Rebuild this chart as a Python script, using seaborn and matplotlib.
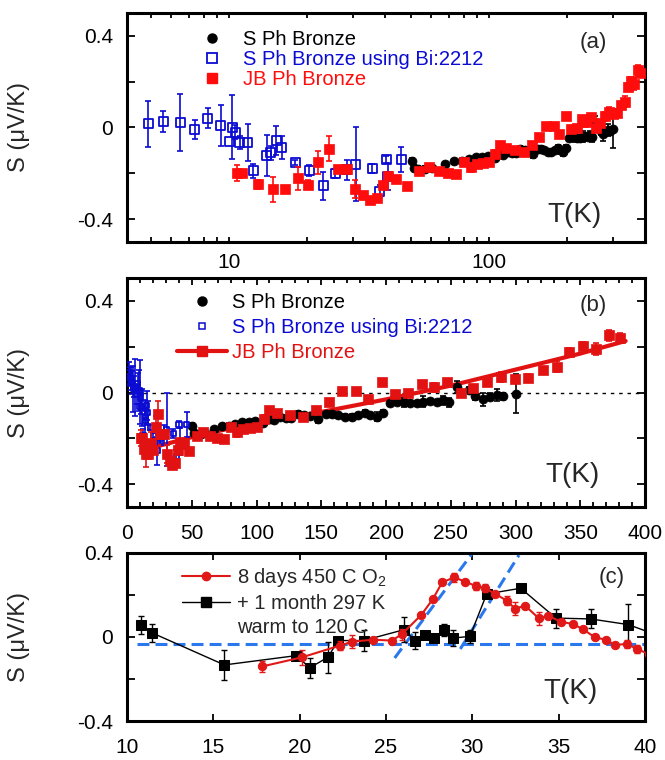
import numpy as np
import pandas as pd
import seaborn as sns
import matplotlib.pyplot as plt
from matplotlib.lines import Line2D
from matplotlib.ticker import (FixedLocator, LogLocator, MultipleLocator,
                               NullFormatter, FuncFormatter)

# Style
sns.set_style("ticks")
plt.rcParams['font.family'] = ['Liberation Sans', 'DejaVu Sans']
plt.rcParams['mathtext.fontset'] = 'custom'
plt.rcParams['mathtext.rm'] = 'Liberation Sans'
plt.rcParams['mathtext.it'] = 'Liberation Sans:italic'
plt.rcParams['axes.unicode_minus'] = False

RED = '#ff0c0c'
RED_B = '#e31212'
RED_C = '#e01818'
BLUE = '#0b0bd2'
GUIDE = '#2b78ee'

# ---- S Ph Bronze (black circles) ----
s_T = [50.5, 51.5, 53.5, 56.8, 60.4, 67.5, 73.5, 78.5, 83.5, 89, 94, 99, 105,
       110.5, 113.5, 118, 123, 127, 132, 137, 141, 147.7, 154, 158, 163, 168,
       173.5, 178.6, 184, 188, 192.8, 198, 203, 208.3, 213.5, 218.5, 223.7,
       228.8, 234, 239.2, 244.2, 249, 254.5, 264, 268.7, 274.7, 280.3, 285.5,
       290.6, 300]
s_S = [-0.145, -0.175, -0.18, -0.18, -0.175, -0.16, -0.148, -0.145, -0.138,
       -0.13, -0.128, -0.125, -0.135, -0.115, -0.12, -0.108, -0.112, -0.11,
       -0.092, -0.098, -0.102, -0.115, -0.094, -0.092, -0.1, -0.106, -0.106,
       -0.1, -0.088, -0.1, -0.106, -0.088, -0.047, -0.042, -0.043, -0.048,
       -0.047, -0.04, -0.038, -0.042, -0.034, -0.042, 0.024, 0.013, -0.014,
       -0.03, -0.019, -0.01, -0.016, -0.005]
s_err = [0.01] * 17 + [0.015, 0.01, 0.01, 0.01, 0.02, 0.01, 0.01, 0.01, 0.01,
         0.01, 0.01, 0.01, 0.01, 0.02, 0.01, 0.01, 0.01, 0.02, 0.01, 0.01,
         0.025, 0.01, 0.01, 0.02, 0.02, 0.025, 0.01, 0.02, 0.03, 0.015, 0.025,
         0.015, 0.085]

# ---- S Ph Bronze using Bi:2212 (blue open squares) ----
bi_T = [1.5, 2.2, 3.0, 3.6, 4.9, 5.6, 6.5, 7.4, 8.3, 9.3, 10.1, 10.3, 10.6,
        11.0, 11.8, 12.4, 14.0, 14.5, 15.2, 16.0, 18.0, 20.4, 23.1, 25.6,
        28.4, 30.7, 35.6, 38.1, 40.2, 40.9, 46.0]
bi_S = [0.085, 0.07, 0.06, 0.045, 0.016, 0.025, 0.023, -0.009, 0.041, 0.009,
        -0.06, 0.001, -0.02, -0.065, -0.065, -0.19, -0.123, -0.11, -0.057,
        -0.087, -0.152, -0.189, -0.255, -0.2, -0.185, -0.16, -0.18, -0.278,
        -0.138, -0.215, -0.14]
bi_err = [0.05, 0.04, 0.05, 0.05, 0.1, 0.045, 0.125, 0.04, 0.045, 0.09, 0.0,
          0.14, 0.03, 0.03, 0.08, 0.03, 0.09, 0.03, 0.065, 0.05, 0.01, 0.025,
          0.06, 0.02, 0.045, 0.16, 0.02, 0.025, 0.015, 0.06, 0.055]

# ---- JB Ph Bronze (red squares) ----
jb_T = [10.75, 11.2, 13.0, 14.8, 16.5, 18.4, 20.1, 22.0, 24.2, 26.2, 28.4,
        30.5, 32.9, 34.9, 37.0, 39.3, 41.0, 43.8, 48.2, 53.9, 58.9, 64.4, 69.7,
        74.6, 80.1, 85.1, 89.6, 95.0, 100.0, 105.5, 110.0, 116.0, 126.0, 136.0,
        146.0, 156.0, 166.0, 177.0, 186.0, 197.0, 207.0, 217.0, 227.5, 237.0,
        247.0, 257.5, 267.5, 278.0, 289.0, 299.5, 310.0, 321.5, 332.0, 341.5,
        352.0, 362.0, 372.5, 381.0]
jb_S = [-0.20, -0.20, -0.248, -0.27, -0.27, -0.221, -0.25, -0.152, -0.092,
        -0.18, -0.182, -0.27, -0.297, -0.317, -0.306, -0.25, -0.214, -0.223,
        -0.254, -0.192, -0.173, -0.188, -0.20, -0.205, -0.149, -0.173, -0.158,
        -0.155, -0.15, -0.114, -0.075, -0.088, -0.098, -0.108, -0.078, -0.042,
        0.008, 0.006, -0.03, 0.048, -0.008, -0.002, 0.038, 0.022, 0.045,
        -0.003, 0.018, 0.048, 0.068, 0.058, 0.065, 0.1, 0.113, 0.178, 0.205,
        0.19, 0.25, 0.24]
jb_err = [0.035, 0.0, 0.02, 0.055, 0.0, 0.05, 0.02, 0.05, 0.055, 0.0, 0.0,
          0.04, 0.0, 0.0, 0.0, 0.0, 0.0, 0.0, 0.0, 0.0, 0.0, 0.0, 0.0, 0.0,
          0.0, 0.02, 0.0, 0.0, 0.0, 0.015, 0.0, 0.0, 0.0, 0.0, 0.0, 0.0, 0.0,
          0.0, 0.0, 0.0, 0.0, 0.0, 0.0, 0.02, 0.0, 0.0, 0.0, 0.02, 0.02, 0.0,
          0.015, 0.0, 0.025, 0.015, 0.015, 0.025, 0.025, 0.02]

# fitted line through JB data, panel (b)
fit_T = [20, 50, 100, 150, 200, 250, 300, 350, 385]
fit_S = [-0.24, -0.195, -0.13, -0.085, -0.03, 0.03, 0.1, 0.17, 0.225]

# ---- panel (c): 8 days 450 C O2 (red circles) ----
o2_T = [17.84, 20.12, 22.33, 23.05, 24.26, 25.33, 25.9, 27.04, 27.7, 28.25,
        28.95, 29.59, 30.23, 30.73, 31.31, 31.99, 32.47, 33.05, 33.85, 34.4,
        35.12, 35.8, 36.39, 37.1, 37.74, 38.26, 38.97, 39.51, 40.2]
o2_S = [-0.14, -0.097, -0.041, -0.022, -0.013, -0.017, 0.012, 0.105, 0.179,
        0.26, 0.284, 0.263, 0.242, 0.232, 0.206, 0.173, 0.135, 0.149, 0.089,
        0.101, 0.073, 0.062, 0.038, -0.002, -0.013, -0.038, -0.033, -0.057,
        -0.08]
o2_err = [0.025, 0.035, 0.02, 0.03, 0.0, 0.0, 0.025, 0.0, 0.0, 0.0, 0.02, 0.0,
          0.02, 0.02, 0.0, 0.02, 0.03, 0.0, 0.03, 0.0, 0.0, 0.0, 0.0, 0.0,
          0.0, 0.0, 0.02, 0.02, 0.0]

# ---- panel (c): + 1 month 297 K, warm to 120 C (black squares) ----
mo_T = [10.79, 11.47, 15.64, 19.77, 20.6, 21.62, 22.24, 23.7, 26.05, 26.68,
        27.26, 27.78, 28.37, 28.9, 29.86, 30.83, 32.8, 34.84, 36.85, 39.03,
        41.0]
mo_S = [0.057, 0.019, -0.133, -0.089, -0.146, -0.097, -0.017, -0.017, 0.035,
        -0.017, 0.01, -0.005, 0.033, -0.005, 0.003, 0.205, 0.232, 0.09, 0.086,
        0.059, 0.0]
mo_err = [0.045, 0.045, 0.07, 0.0, 0.047, 0.075, 0.0, 0.05, 0.06, 0.04, 0.0,
          0.02, 0.03, 0.04, 0.03, 0.0, 0.0, 0.045, 0.045, 0.1, 0.0]

# blue dashed guides, panel (c)
base_T = [10.6, 40.0]
base_S = [-0.033, -0.033]
rise1_T = [25.5, 30.1]
rise1_S = [-0.1, 0.41]
rise2_T = [29.3, 32.7]
rise2_S = [-0.057, 0.39]


def to_frame(T, S, err):
    return pd.DataFrame({'T': T, 'S': S, 'err': err})


def add_errorbars(ax, df, color, z, lw=1.2):
    e = df[df['err'] > 0]
    ax.errorbar(e['T'], e['S'], yerr=e['err'], fmt='none', ecolor=color,
                elinewidth=lw, capsize=2.5, capthick=lw, zorder=z)


def s_label(v, pos):
    return '0' if abs(v) < 1e-9 else f'{v:g}'


def style_axes(ax, xpad):
    for sp in ax.spines.values():
        sp.set_linewidth(2.2)
        sp.set_color('black')
    ax.tick_params(which='both', direction='in', top=True, right=True,
                   width=1.3, labelsize=15, colors='black')
    ax.tick_params(axis='y', which='both', length=6, pad=10)
    ax.tick_params(axis='x', which='major', length=5, pad=xpad)
    ax.tick_params(axis='x', which='minor', length=3.5)
    ax.yaxis.set_major_formatter(FuncFormatter(s_label))
    ax.set_ylabel('S (\u03bcV/K)', fontsize=17)
    ax.yaxis.set_label_coords(-0.187, 0.5)
    ax.set_xlabel('')


def draw_bronze(ax, blue_size, red):
    black = to_frame(s_T, s_S, s_err)
    blue = to_frame(bi_T, bi_S, bi_err)
    jb = to_frame(jb_T, jb_S, jb_err)
    add_errorbars(ax, black, 'black', 2)
    sns.scatterplot(data=black, x='T', y='S', ax=ax, marker='o', s=42,
                    color='black', edgecolor='black', linewidth=0.5,
                    zorder=3, legend=False)
    add_errorbars(ax, blue, BLUE, 4)
    sns.scatterplot(data=blue, x='T', y='S', ax=ax, marker='s', s=blue_size,
                    facecolor='none', edgecolor=BLUE, linewidth=1.3,
                    zorder=5, legend=False)
    add_errorbars(ax, jb, red, 6)
    sns.scatterplot(data=jb, x='T', y='S', ax=ax, marker='s', s=52,
                    color=red, edgecolor=red, linewidth=0.5,
                    zorder=7, legend=False)


fig = plt.figure(figsize=(6.65, 7.6), dpi=100)
ax_a = fig.add_axes([0.191, 0.6816, 0.779, 0.3013])
ax_b = fig.add_axes([0.191, 0.3329, 0.779, 0.3013])
ax_c = fig.add_axes([0.191, 0.0513, 0.779, 0.2211])

# ---- (a) log temperature ----
ax_a.set_xscale('log')
draw_bronze(ax_a, 42, RED)
ax_a.set_xlim(4.06, 398)
ax_a.set_ylim(-0.5, 0.5)
style_axes(ax_a, 8)
ax_a.xaxis.set_major_locator(FixedLocator([10, 100]))
ax_a.xaxis.set_major_formatter(FuncFormatter(lambda v, p: f'{v:.0f}'))
ax_a.xaxis.set_minor_locator(LogLocator(base=10, subs=np.arange(2, 10)))
ax_a.xaxis.set_minor_formatter(NullFormatter())
ax_a.tick_params(axis='x', which='major', length=3.5)
ax_a.yaxis.set_major_locator(MultipleLocator(0.4))
ax_a.yaxis.set_minor_locator(MultipleLocator(0.2))
leg_a = [Line2D([], [], ls='none', marker='o', color='black', ms=6.5),
         Line2D([], [], ls='none', marker='s', mfc='none', mec=BLUE, mew=1.3, ms=6.5),
         Line2D([], [], ls='none', marker='s', color=RED, ms=7)]
ax_a.legend(leg_a, ['S Ph Bronze', 'S Ph Bronze using Bi:2212', 'JB Ph Bronze'],
            loc='upper left', bbox_to_anchor=(0.145, 0.925), frameon=False,
            fontsize=14.5, handlelength=1.0, handletextpad=1.05,
            labelspacing=0.05, borderpad=0, borderaxespad=0,
            labelcolor=['black', BLUE, RED])
ax_a.text(0.9, 0.873, '(a)', transform=ax_a.transAxes, fontsize=16,
          ha='center', va='center')
ax_a.text(0.811, 0.087, 'T(K)', transform=ax_a.transAxes, fontsize=20,
          ha='left', va='baseline')

# ---- (b) linear temperature ----
sns.lineplot(x=fit_T, y=fit_S, ax=ax_b, color=RED_B, lw=3, zorder=1)
ax_b.axhline(0, color='black', lw=1, ls=(0, (2.5, 3.5)), zorder=0)
draw_bronze(ax_b, 14, RED_B)
ax_b.set_xlim(0, 400)
ax_b.set_ylim(-0.5, 0.5)
style_axes(ax_b, 12.5)
ax_b.xaxis.set_major_locator(MultipleLocator(50))
ax_b.xaxis.set_minor_locator(MultipleLocator(10))
ax_b.yaxis.set_major_locator(MultipleLocator(0.4))
ax_b.yaxis.set_minor_locator(MultipleLocator(0.2))
leg_b = [Line2D([], [], ls='none', marker='o', color='black', ms=6.5),
         Line2D([], [], ls='none', marker='s', mfc='none', mec=BLUE, mew=1.1, ms=3.8),
         Line2D([], [], ls='-', lw=3, marker='s', color=RED_B, ms=7)]
ax_b.legend(leg_b, ['S Ph Bronze', 'S Ph Bronze using Bi:2212', 'JB Ph Bronze'],
            loc='upper left', bbox_to_anchor=(0.0965, 0.934), frameon=False,
            fontsize=14.5, handlelength=2.5, handletextpad=0.25,
            labelspacing=0.3, borderpad=0, borderaxespad=0,
            labelcolor=['black', BLUE, RED_B])
ax_b.text(0.9, 0.878, '(b)', transform=ax_b.transAxes, fontsize=16,
          ha='center', va='center')
ax_b.text(0.807, 0.11, 'T(K)', transform=ax_b.transAxes, fontsize=20,
          ha='left', va='baseline')

# ---- (c) annealing runs ----
for gx, gy in [(base_T, base_S), (rise1_T, rise1_S), (rise2_T, rise2_S)]:
    sns.lineplot(x=gx, y=gy, ax=ax_c, color=GUIDE, lw=2.2,
                 linestyle=(0, (3.9, 2.0)), zorder=1)
o2 = to_frame(o2_T, o2_S, o2_err)
mo = to_frame(mo_T, mo_S, mo_err)
add_errorbars(ax_c, mo, 'black', 2, lw=1.0)
sns.lineplot(data=mo, x='T', y='S', ax=ax_c, color='black', lw=1.0,
             marker='s', markersize=6.5, markeredgecolor='black',
             estimator=None, zorder=3)
add_errorbars(ax_c, o2, RED_C, 4, lw=1.0)
sns.lineplot(data=o2, x='T', y='S', ax=ax_c, color=RED_C, lw=1.5,
             marker='o', markersize=6, markeredgecolor=RED_C,
             estimator=None, zorder=5)
ax_c.set_xlim(10, 40)
ax_c.set_ylim(-0.4, 0.4)
style_axes(ax_c, 12)
ax_c.xaxis.set_major_locator(MultipleLocator(5))
ax_c.xaxis.set_minor_locator(plt.NullLocator())
ax_c.yaxis.set_major_locator(MultipleLocator(0.4))
ax_c.yaxis.set_minor_locator(MultipleLocator(0.2))
leg_c = [Line2D([], [], color=RED_C, lw=1.5, marker='o', ms=6),
         Line2D([], [], color='black', lw=1.0, marker='s', ms=6.5),
         Line2D([], [], ls='none')]
ax_c.legend(leg_c, ['8 days 450 C O$_2$', '+ 1 month 297 K', 'warm to 120 C'],
            loc='upper left', bbox_to_anchor=(0.106, 0.925), frameon=False,
            fontsize=14.5, handlelength=2.4, handletextpad=0.35,
            labelspacing=0.25, borderpad=0, borderaxespad=0)
ax_c.text(0.936, 0.854, '(c)', transform=ax_c.transAxes, fontsize=16,
          ha='center', va='center')
ax_c.text(0.803, 0.137, 'T(K)', transform=ax_c.transAxes, fontsize=20,
          ha='left', va='baseline')

fig.savefig('out.png', dpi=100)
